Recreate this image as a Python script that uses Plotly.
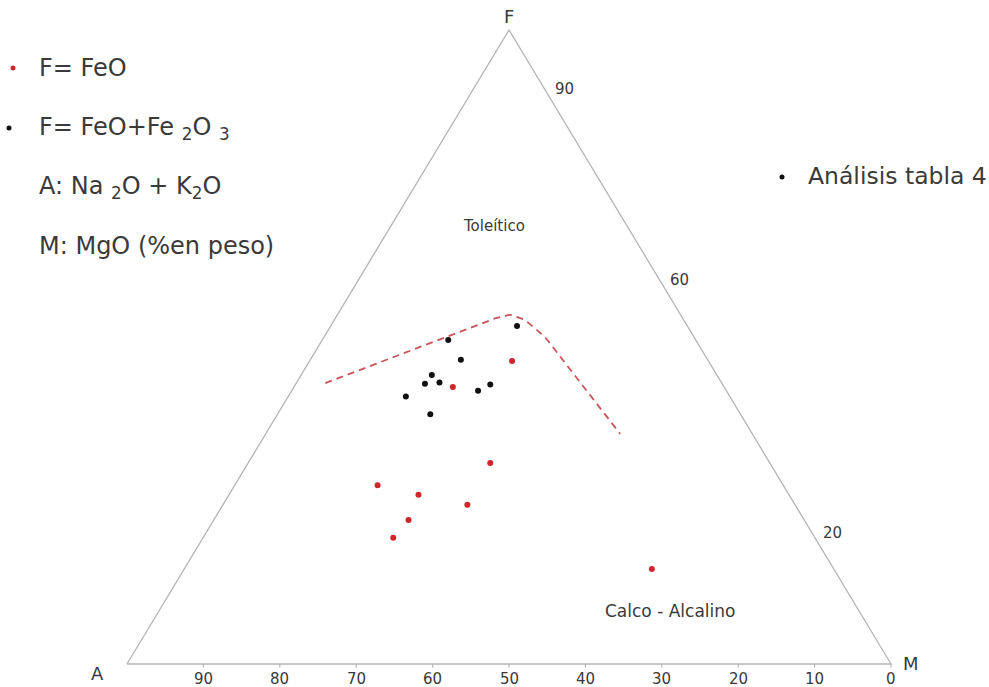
import plotly.graph_objects as go

# AFM diagram: A = Na2O + K2O, F = FeO (or FeO + Fe2O3), M = MgO (wt %)
black_A = [22.3, 32.4, 32.3, 37.3, 38.9, 36.9, 42.4, 40.6, 32.5, 30.4]
black_F = [53.3, 51.1, 48.0, 45.6, 44.2, 44.4, 42.2, 39.4, 43.1, 44.1]
black_M = [24.4, 16.5, 19.7, 17.1, 16.9, 18.7, 15.4, 20.0, 24.4, 25.5]

red_A = [25.7, 35.5, 36.6, 53.1, 48.5, 42.9, 51.8, 55.2, 23.8]
red_F = [47.8, 43.7, 31.7, 28.2, 26.7, 25.1, 22.7, 19.9, 15.0]
red_M = [26.5, 20.8, 31.7, 18.7, 24.8, 32.0, 25.5, 24.9, 61.2]

# tholeiitic / calc-alkaline boundary
line_A = [51.9, 24.6, 22.3, 20.8, 19.5, 17.3]
line_F = [44.3, 54.5, 55.1, 54.3, 51.6, 36.3]
line_M = [3.8, 20.9, 22.6, 24.9, 28.9, 46.4]

bottom_ticks = [90, 80, 70, 60, 50, 40, 30, 20, 10, 0]   # A values on the A-M edge
right_ticks = [90, 60, 20]                               # F values on the F-M edge

TEXT = "#3a3a3a"
EDGE = "#b4b4b4"
RED = "#d0262b"
FONT = "DejaVu Sans"


def to_xy(A, F, M):
    """Project ternary compositions to Cartesian x (0-100) and y = F (0-100)."""
    xs, ys = [], []
    for a, f, m in zip(A, F, M):
        t = a + f + m
        f_, m_ = 100 * f / t, 100 * m / t
        xs.append(m_ + f_ / 2)
        ys.append(f_)
    return xs, ys


fig = go.Figure()

# triangle outline
tx, ty = to_xy([100, 0, 0, 100], [0, 0, 100, 0], [0, 100, 0, 0])
fig.add_trace(go.Scatter(x=tx, y=ty, mode="lines",
                         line=dict(color=EDGE, width=1.3), hoverinfo="skip"))

# tick marks along the A-M edge
bx, by = to_xy(bottom_ticks, [0] * len(bottom_ticks), [100 - v for v in bottom_ticks])
for x in bx:
    fig.add_trace(go.Scatter(x=[x, x], y=[0, -0.55], mode="lines",
                             line=dict(color=EDGE, width=1.2), hoverinfo="skip"))
for x, v in zip(bx, bottom_ticks):
    fig.add_annotation(x=x, y=-2.4, text=str(v), showarrow=False,
                       font=dict(size=15, color=TEXT, family=FONT),
                       xanchor="center", yanchor="middle")

# F labels on the F-M edge
rx, ry = to_xy([0] * len(right_ticks), right_ticks, [100 - v for v in right_ticks])
for x, y, v in zip(rx, ry, right_ticks):
    fig.add_annotation(x=x, y=y, text=str(v), showarrow=False,
                       font=dict(size=15, color=TEXT, family=FONT),
                       xanchor="left", yanchor="middle", xshift=6, yshift=4)

# boundary curve
lx, ly = to_xy(line_A, line_F, line_M)
fig.add_trace(go.Scatter(x=lx, y=ly, mode="lines",
                         line=dict(color="#c9545a", width=1.8, dash="7px,5px"),
                         hoverinfo="skip"))

# samples
kx, ky = to_xy(black_A, black_F, black_M)
fig.add_trace(go.Scatter(x=kx, y=ky, mode="markers",
                         marker=dict(color="#111111", size=6)))
rx2, ry2 = to_xy(red_A, red_F, red_M)
fig.add_trace(go.Scatter(x=rx2, y=ry2, mode="markers",
                         marker=dict(color=RED, size=6)))

# vertex labels
fig.add_annotation(x=tx[2], y=ty[2], text="F", showarrow=False, yshift=14,
                   font=dict(size=18, color=TEXT, family=FONT),
                   xanchor="center", yanchor="middle")
fig.add_annotation(x=tx[0], y=ty[0], text="A", showarrow=False, xshift=-30, yshift=-9,
                   font=dict(size=18, color=TEXT, family=FONT),
                   xanchor="center", yanchor="middle")
fig.add_annotation(x=tx[1], y=ty[1], text="M", showarrow=False, xshift=20, yshift=1,
                   font=dict(size=18, color=TEXT, family=FONT),
                   xanchor="center", yanchor="middle")

# field names
fig.add_annotation(x=494 / 989, y=1 - 226 / 687, xref="paper", yref="paper",
                   text="Toleítico", showarrow=False, xanchor="center", yanchor="middle",
                   font=dict(size=15, color=TEXT, family=FONT))
fig.add_annotation(x=670 / 989, y=1 - 611 / 687, xref="paper", yref="paper",
                   text="Calco - Alcalino", showarrow=False,
                   xanchor="center", yanchor="middle",
                   font=dict(size=17, color=TEXT, family=FONT))

# key
key = [
    (68, "F= FeO", RED),
    (128, "F= FeO+Fe <sub>2</sub>O <sub>3</sub>", "#111111"),
    (187, "A: Na <sub>2</sub>O + K<sub>2</sub>O", None),
    (246, "M: MgO (%en peso)", None),
]
for py, txt, dot in key:
    fig.add_annotation(x=37 / 989, y=1 - py / 687, xref="paper", yref="paper",
                       text=txt, showarrow=False, xanchor="left", yanchor="middle",
                       font=dict(size=24, color=TEXT, family=FONT))
dots = [(13, 68, RED), (9, 128, "#111111"), (782, 177, "#111111")]
for dx, dy, col in dots:
    fig.add_shape(type="circle", xref="paper", yref="paper",
                  x0=(dx - 2.5) / 989, x1=(dx + 2.5) / 989,
                  y0=1 - (dy + 2.5) / 687, y1=1 - (dy - 2.5) / 687,
                  fillcolor=col, line=dict(width=0))
fig.add_annotation(x=806 / 989, y=1 - 176 / 687, xref="paper", yref="paper",
                   text="Análisis tabla 4", showarrow=False,
                   xanchor="left", yanchor="middle",
                   font=dict(size=23.5, color=TEXT, family=FONT))

# axes scaled so that the triangle spans 764 x 634 px
fig.update_xaxes(range=[-127 / 7.64, 862 / 7.64], visible=False, fixedrange=True)
fig.update_yaxes(range=[-23 / 6.34, 664 / 6.34], visible=False, fixedrange=True)
fig.update_layout(width=989, height=687, margin=dict(l=0, r=0, t=0, b=0),
                  showlegend=False, plot_bgcolor="white", paper_bgcolor="white")

fig.write_html("out.html")
